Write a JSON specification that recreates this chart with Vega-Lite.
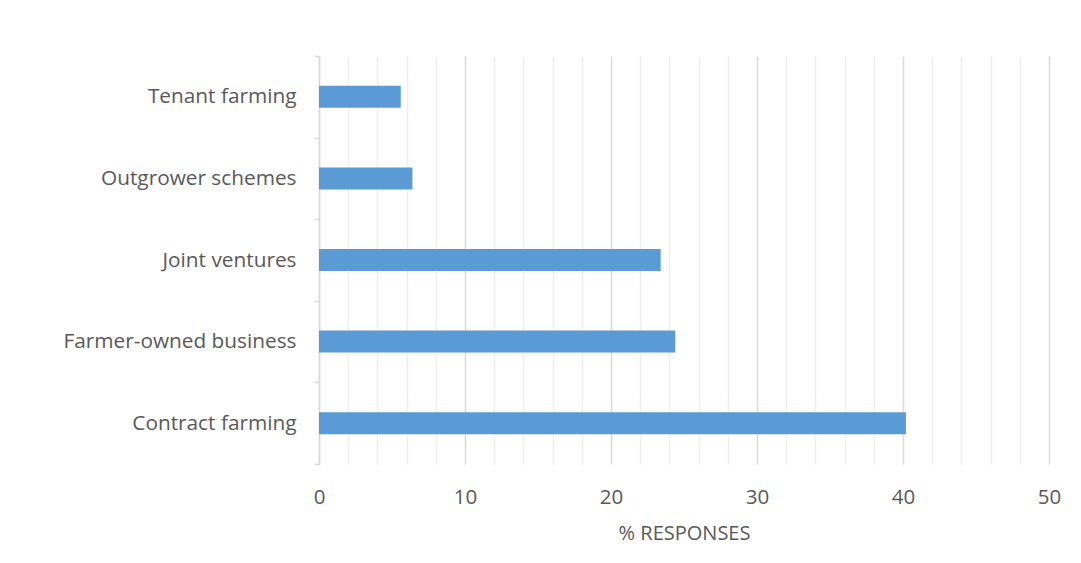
{
  "$schema": "https://vega.github.io/schema/vega-lite/v6.json",
  "width": 730,
  "height": 408,
  "autosize": {"type": "none"},
  "padding": {"left": 319, "top": 56, "right": 32, "bottom": 99},
  "background": "white",
  "config": {
    "view": {"stroke": null},
    "font": "Open Sans"
  },
  "data": {
    "values": [
      {"category": "Tenant farming", "value": 5.6},
      {"category": "Outgrower schemes", "value": 6.4},
      {"category": "Joint ventures", "value": 23.4},
      {"category": "Farmer-owned business", "value": 24.4},
      {"category": "Contract farming", "value": 40.2}
    ]
  },
  "mark": {"type": "bar", "color": "#5B9BD5", "height": {"band": 0.27}},
  "encoding": {
    "y": {
      "field": "category",
      "type": "nominal",
      "sort": null,
      "scale": {"paddingInner": 0, "paddingOuter": 0},
      "axis": {
        "title": null,
        "domain": true,
        "domainColor": "#d9d9d9",
        "domainWidth": 1.5,
        "ticks": true,
        "tickBand": "extent",
        "tickColor": "#d9d9d9",
        "tickSize": 5,
        "tickWidth": 1.5,
        "labelPadding": 18,
        "labelFontSize": 20.8,
        "labelColor": "#595959",
        "labelFont": "Open Sans",
        "labelLimit": 400,
        "grid": false
      }
    },
    "x": {
      "field": "value",
      "type": "quantitative",
      "scale": {"domain": [0, 50], "nice": false},
      "axis": {
        "values": [2, 4, 6, 8, 10, 12, 14, 16, 18, 20, 22, 24, 26, 28, 30, 32, 34, 36, 38, 40, 42, 44, 46, 48, 50, 0],
        "labelExpr": "datum.value % 10 === 0 ? datum.label : ''",
        "labelFlush": false,
        "labelOverlap": false,
        "domain": false,
        "ticks": false,
        "grid": true,
        "gridColor": {"condition": {"test": "datum.value % 10 === 0", "value": "#d9d9d9"}, "value": "#efefef"},
        "gridWidth": 1.5,
        "labelPadding": 23,
        "labelFontSize": 20.5,
        "labelColor": "#595959",
        "labelFont": "Open Sans",
        "title": "% RESPONSES",
        "titleFontSize": 20,
        "titleFontWeight": "normal",
        "titleColor": "#595959",
        "titleFont": "Open Sans",
        "titlePadding": 16
      }
    }
  }
}
